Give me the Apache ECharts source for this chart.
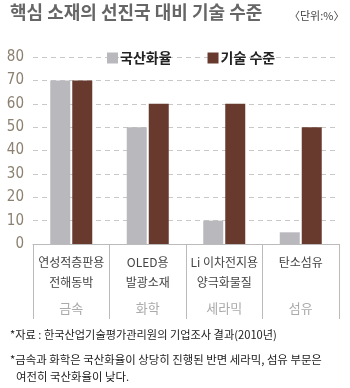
<!DOCTYPE html>
<html><head><meta charset="utf-8">
<script src="https://cdn.jsdelivr.net/npm/echarts@6/dist/echarts.min.js"></script>
<style>html,body{margin:0;padding:0;background:#fff}#c{width:350px;height:388px}</style>
</head><body><div id="c"></div>
<script>
var categories = ['연성적층판용\n전해동박', 'OLED용\n발광소재', 'Li 이차전지용\n양극화물질', '탄소섬유'];
var groups = ['금속', '화학', '세라믹', '섬유'];
var localization = [70, 50, 10, 5];
var techLevel = [70, 60, 60, 50];
var seriesNames = ['국산화율', '기술 수준'];
var yTicks = [0, 10, 20, 30, 40, 50, 60, 70, 80];

var KR = '"Noto Sans CJK KR", "Noto Sans", sans-serif';
var chart = echarts.init(document.getElementById('c'), null, {renderer: 'canvas'});
chart.setOption({
  animation: false,
  backgroundColor: '#fff',
  textStyle: {fontFamily: KR},
  grid: {left: 33, right: 11, top: 57, bottom: 144},
  legend: {
    left: 102, top: 46, itemWidth: 11, itemHeight: 11, itemGap: 36,
    icon: 'rect',
    textStyle: {fontSize: 14, fontWeight: 'bold', color: '#222', fontFamily: KR, padding: [0, 0, 0, -3]},
    data: seriesNames
  },
  xAxis: {
    type: 'category',
    data: categories,
    axisLine: {lineStyle: {color: '#bbb', width: 1}},
    axisTick: {show: true, length: 75, lineStyle: {color: '#bbb'}},
    axisLabel: {
      margin: 8,
      interval: 0,
      formatter: function (v, i) {
        var parts = v.split('\n');
        var l1 = parts[0], l2 = parts[1] || ' ';
        return '{a|' + l1 + '}\n{a|' + l2 + '}\n{g|' + groups[i] + '}';
      },
      rich: {
        a: {fontSize: 12, lineHeight: 20, color: '#444', fontFamily: KR},
        g: {fontSize: 13, lineHeight: 32, color: '#aaa', fontFamily: KR}
      }
    }
  },
  yAxis: {
    type: 'value', min: 0, max: 80, interval: 10,
    axisLine: {show: false}, axisTick: {show: false},
    axisLabel: {
      margin: 9, fontSize: 15, color: '#8c8070',
      fontFamily: '"Liberation Sans Narrow", "DejaVu Sans Condensed", sans-serif',
      formatter: function (v) { return yTicks.indexOf(v) >= 0 ? String(v) : ''; }
    },
    splitLine: {lineStyle: {color: '#c8c8c8', type: [5, 4], width: 1}}
  },
  series: [
    {name: seriesNames[0], type: 'bar', data: localization, barWidth: 20, barGap: '10%',
     itemStyle: {color: '#b9b9bd'}},
    {name: seriesNames[1], type: 'bar', data: techLevel, barWidth: 20,
     itemStyle: {color: '#683a2e'}}
  ],
  graphic: [
    {type: 'text', left: 10, top: 3, style: {text: '핵심 소재의 선진국 대비 기술 수준', fontSize: 18, fontWeight: 'bold', fill: '#666', fontFamily: KR}},
    {type: 'text', left: 289, top: 10, style: {text: '〈단위:%〉', fontSize: 11, fill: '#444', fontFamily: KR}},
    {type: 'text', left: 10, top: 329, style: {text: '*자료 : 한국산업기술평가관리원의 기업조사 결과(2010년)', fontSize: 11.2, fill: '#222', fontFamily: KR}},
    {type: 'text', left: 10, top: 354, style: {text: '*금속과 화학은 국산화율이 상당히 진행된 반면 세라믹, 섬유 부문은', fontSize: 11.4, fill: '#222', fontFamily: KR}},
    {type: 'text', left: 16, top: 371, style: {text: '여전히 국산화율이 낮다.', fontSize: 11.4, fill: '#222', fontFamily: KR}}
  ]
});
</script></body></html>
